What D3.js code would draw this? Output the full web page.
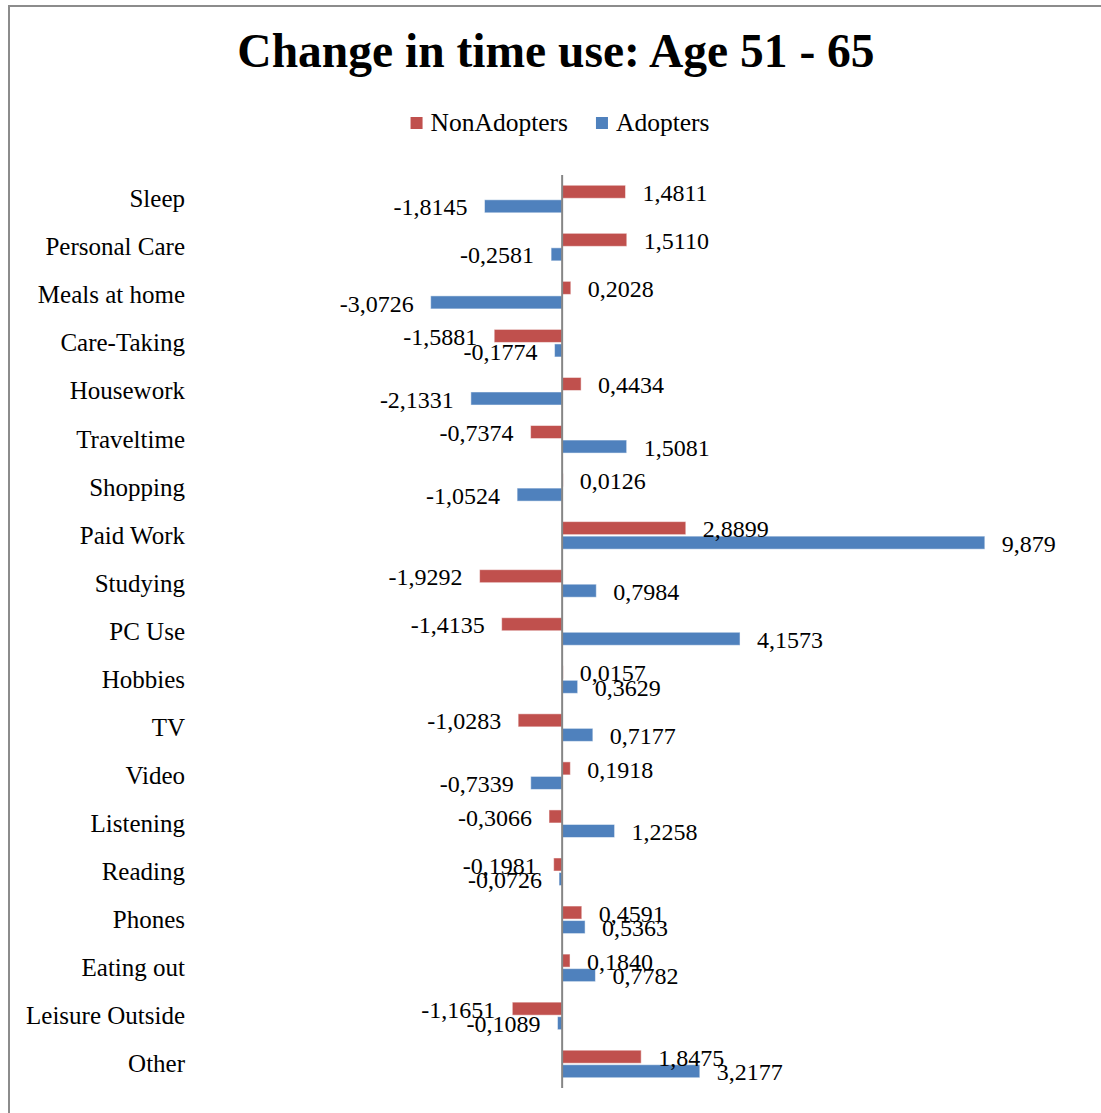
<!DOCTYPE html>
<html>
<head>
<meta charset="utf-8">
<script src="https://cdn.jsdelivr.net/npm/d3@7"></script>
<style>
  html, body { margin: 0; padding: 0; background: #fff; }
  svg { display: block; }
  text { font-family: "Liberation Serif", "DejaVu Serif", serif; fill: #000; }
</style>
</head>
<body>
<svg id="chart" width="1101" height="1113"></svg>
<script>
const categories = ["Sleep", "Personal Care", "Meals at home", "Care-Taking", "Housework",
  "Traveltime", "Shopping", "Paid Work", "Studying", "PC Use", "Hobbies", "TV", "Video",
  "Listening", "Reading", "Phones", "Eating out", "Leisure Outside", "Other"];
const seriesNames = ["NonAdopters", "Adopters"];
const nonAdopters = ["1,4811", "1,5110", "0,2028", "-1,5881", "0,4434", "-0,7374", "0,0126",
  "2,8899", "-1,9292", "-1,4135", "0,0157", "-1,0283", "0,1918", "-0,3066", "-0,1981",
  "0,4591", "0,1840", "-1,1651", "1,8475"];
const adopters = ["-1,8145", "-0,2581", "-3,0726", "-0,1774", "-2,1331", "1,5081", "-1,0524",
  "9,879", "0,7984", "4,1573", "0,3629", "0,7177", "-0,7339", "1,2258", "-0,0726",
  "0,5363", "0,7782", "-0,1089", "3,2177"];
const seriesColors = ["#C0504D", "#4F81BD"];
const titleText = "Change in time use: Age 51 - 65";

const parse = s => parseFloat(s.replace(",", "."));
const rows = categories.map((c, i) => ({
  category: c,
  values: [
    { series: seriesNames[0], label: nonAdopters[i], value: parse(nonAdopters[i]) },
    { series: seriesNames[1], label: adopters[i], value: parse(adopters[i]) }
  ]
}));

const svg = d3.select("#chart");

// chart border
svg.append("rect")
  .attr("x", 9).attr("y", 6).attr("width", 1120).attr("height", 1130)
  .attr("fill", "none").attr("stroke", "#8c8c8c").attr("stroke-width", 2);

// title
svg.append("text")
  .attr("x", 556).attr("y", 67)
  .attr("text-anchor", "middle")
  .attr("font-size", 47.5).attr("font-weight", "bold")
  .text(titleText);

// scales
const x = d3.scaleLinear().domain([-4, 10]).range([391, 990]);
const y = d3.scaleBand().domain(categories).range([175, 1088]).padding(0);
const ySub = d3.scaleBand().domain(seriesNames).range([9.5, y.bandwidth() - 9.5]).padding(0);
const color = d3.scaleOrdinal().domain(seriesNames).range(seriesColors);

// legend
const legend = svg.append("g");
let lx = 0;
seriesNames.forEach((s, i) => {
  const g = legend.append("g").attr("transform", `translate(${lx},0)`);
  g.append("rect").attr("x", 0).attr("y", 117).attr("width", 12).attr("height", 12)
    .attr("fill", color(s));
  const t = g.append("text").attr("x", 20).attr("y", 131).attr("font-size", 25.5).text(s);
  lx += 20 + t.node().getComputedTextLength() + 28;
});
const legendW = lx - 28;
legend.attr("transform", `translate(${560 - legendW / 2},0)`);

// category labels
svg.append("g").selectAll("text")
  .data(categories).join("text")
  .attr("x", 185)
  .attr("y", d => y(d) + y.bandwidth() / 2)
  .attr("dy", "0.33em")
  .attr("text-anchor", "end")
  .attr("font-size", 25)
  .text(d => d);

// bars
const groups = svg.append("g").selectAll("g")
  .data(rows).join("g")
  .attr("transform", d => `translate(0,${y(d.category)})`);

groups.selectAll("rect")
  .data(d => d.values).join("rect")
  .attr("x", d => Math.min(x(0), x(d.value)))
  .attr("y", d => ySub(d.series) + 0.75)
  .attr("width", d => Math.max(1, Math.abs(x(d.value) - x(0))))
  .attr("height", ySub.bandwidth() - 1.5)
  .attr("fill", d => color(d.series))
  .attr("stroke", "#ffffff").attr("stroke-opacity", 0.5).attr("stroke-width", 1);

// axis line (vertical at zero)
svg.append("line")
  .attr("x1", x(0)).attr("x2", x(0))
  .attr("y1", y.range()[0]).attr("y2", y.range()[1])
  .attr("stroke", "#868686").attr("stroke-width", 2);

// data labels
groups.selectAll("text")
  .data(d => d.values).join("text")
  .attr("x", d => d.value >= 0 ? x(d.value) + 17 : x(d.value) - 17)
  .attr("y", d => ySub(d.series) + ySub.bandwidth() / 2)
  .attr("dy", "0.38em")
  .attr("text-anchor", d => d.value >= 0 ? "start" : "end")
  .attr("font-size", 24)
  .text(d => d.label);
</script>
</body>
</html>
